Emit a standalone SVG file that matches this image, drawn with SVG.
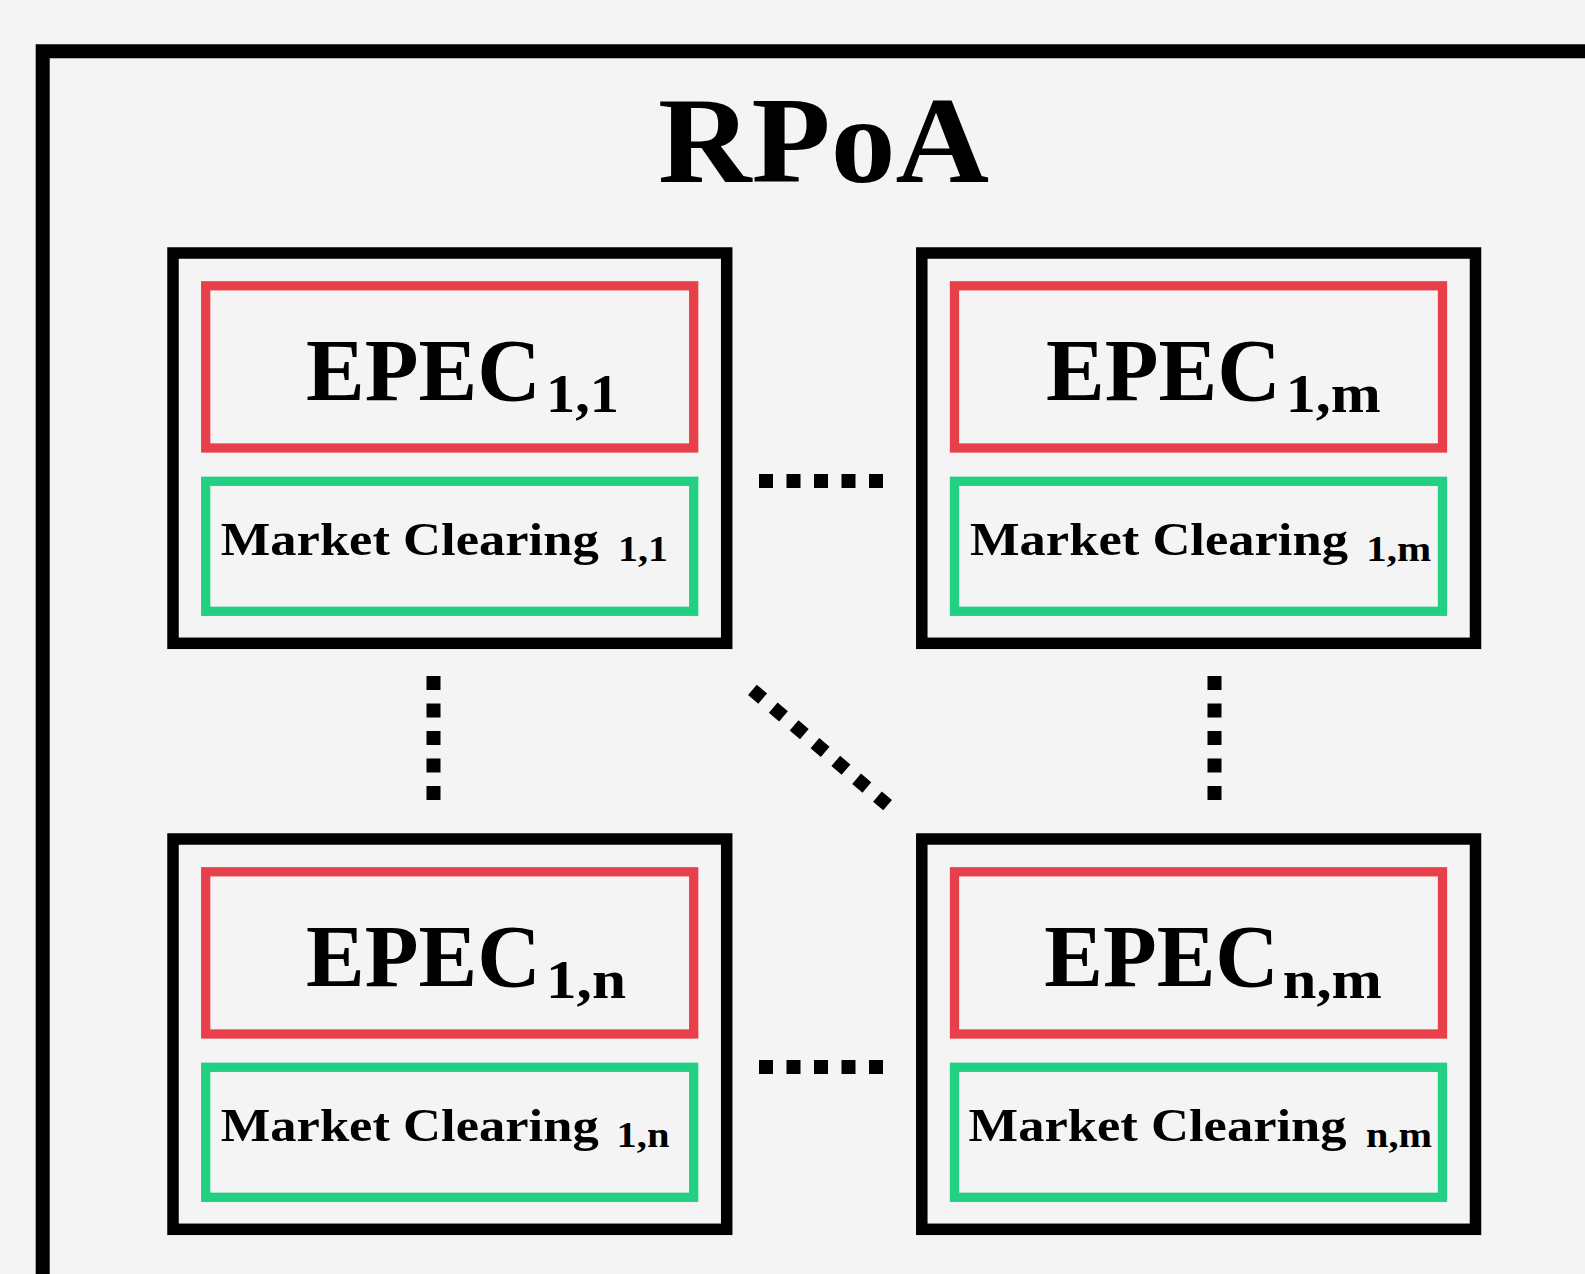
<svg xmlns="http://www.w3.org/2000/svg" width="1585" height="1274" viewBox="0 0 1585 1274">
<style>
.bg{fill:#f4f4f4}
.outer{fill:none;stroke:#000;stroke-width:14;stroke-linejoin:miter}
.box{fill:none;stroke:#000;stroke-width:11.5}
.red{fill:none;stroke:#e8404b;stroke-width:9.3}
.green{fill:none;stroke:#21d082;stroke-width:9.3}
.dots{fill:none;stroke:#000;stroke-width:14;stroke-dasharray:14 13.5}
.ddots{fill:none;stroke:#000;stroke-width:13.5;stroke-dasharray:13.5 13.9}
text{font-family:"Liberation Serif","Times New Roman",serif;font-weight:bold;fill:#000}
.title{font-size:122px}
.epec{font-size:88px}
.esub{font-size:54px}
.mc{font-size:47px}
.msub{font-size:35px}
</style>
<rect class="bg" x="0" y="0" width="1585" height="1274"/>
<g id="rpoa-frame">
<path class="outer" d="M42.7,1300 V51.2 H1620"/>
<text class="title" x="658" y="181.7" textLength="331" lengthAdjust="spacingAndGlyphs">RPoA</text>
</g>
<g id="epec-1-1" transform="translate(173,253)">
<rect class="box" x="0" y="0" width="553.7" height="390.3"/>
<rect class="red" x="32.7" y="32.8" width="488" height="162.2"/>
<rect class="green" x="32.7" y="228.3" width="488" height="130"/>
<text><tspan class="epec" x="133" y="147">EPEC</tspan><tspan class="esub" x="373" y="158.7" textLength="73" lengthAdjust="spacingAndGlyphs">1,1</tspan></text>
<text><tspan class="mc" x="47.7" y="302" textLength="378" lengthAdjust="spacingAndGlyphs">Market Clearing</tspan><tspan class="msub" x="445" y="308" textLength="50" lengthAdjust="spacingAndGlyphs">1,1</tspan></text>
</g>
<g id="epec-1-m" transform="translate(921.8,253)">
<rect class="box" x="0" y="0" width="553.7" height="390.3"/>
<rect class="red" x="32.7" y="32.8" width="488" height="162.2"/>
<rect class="green" x="32.7" y="228.3" width="488" height="130"/>
<text><tspan class="epec" x="124.2" y="147">EPEC</tspan><tspan class="esub" x="364" y="158.7" textLength="95" lengthAdjust="spacingAndGlyphs">1,m</tspan></text>
<text><tspan class="mc" x="48.2" y="302" textLength="378" lengthAdjust="spacingAndGlyphs">Market Clearing</tspan><tspan class="msub" x="444.5" y="308" textLength="65" lengthAdjust="spacingAndGlyphs">1,m</tspan></text>
</g>
<g id="epec-1-n" transform="translate(173,839)">
<rect class="box" x="0" y="0" width="553.7" height="390.3"/>
<rect class="red" x="32.7" y="32.8" width="488" height="162.2"/>
<rect class="green" x="32.7" y="228.3" width="488" height="130"/>
<text><tspan class="epec" x="133" y="147">EPEC</tspan><tspan class="esub" x="373" y="158.7" textLength="80" lengthAdjust="spacingAndGlyphs">1,n</tspan></text>
<text><tspan class="mc" x="47.7" y="302" textLength="378" lengthAdjust="spacingAndGlyphs">Market Clearing</tspan><tspan class="msub" x="443.5" y="308" textLength="53" lengthAdjust="spacingAndGlyphs">1,n</tspan></text>
</g>
<g id="epec-n-m" transform="translate(921.8,839)">
<rect class="box" x="0" y="0" width="553.7" height="390.3"/>
<rect class="red" x="32.7" y="32.8" width="488" height="162.2"/>
<rect class="green" x="32.7" y="228.3" width="488" height="130"/>
<text><tspan class="epec" x="122.4" y="147">EPEC</tspan><tspan class="esub" x="361" y="158.7" textLength="99" lengthAdjust="spacingAndGlyphs">n,m</tspan></text>
<text><tspan class="mc" x="46.8" y="302" textLength="378" lengthAdjust="spacingAndGlyphs">Market Clearing</tspan><tspan class="msub" x="444.3" y="308" textLength="66" lengthAdjust="spacingAndGlyphs">n,m</tspan></text>
</g>
<g id="connectors">
<line class="dots" x1="759" y1="481" x2="883" y2="481"/>
<line class="dots" x1="759" y1="1067" x2="883" y2="1067"/>
<line class="dots" x1="433.5" y1="676" x2="433.5" y2="800"/>
<line class="dots" x1="1214.5" y1="676" x2="1214.5" y2="800"/>
<line class="ddots" x1="752.4" y1="689.8" x2="887.6" y2="805.2"/>
</g>
</svg>
